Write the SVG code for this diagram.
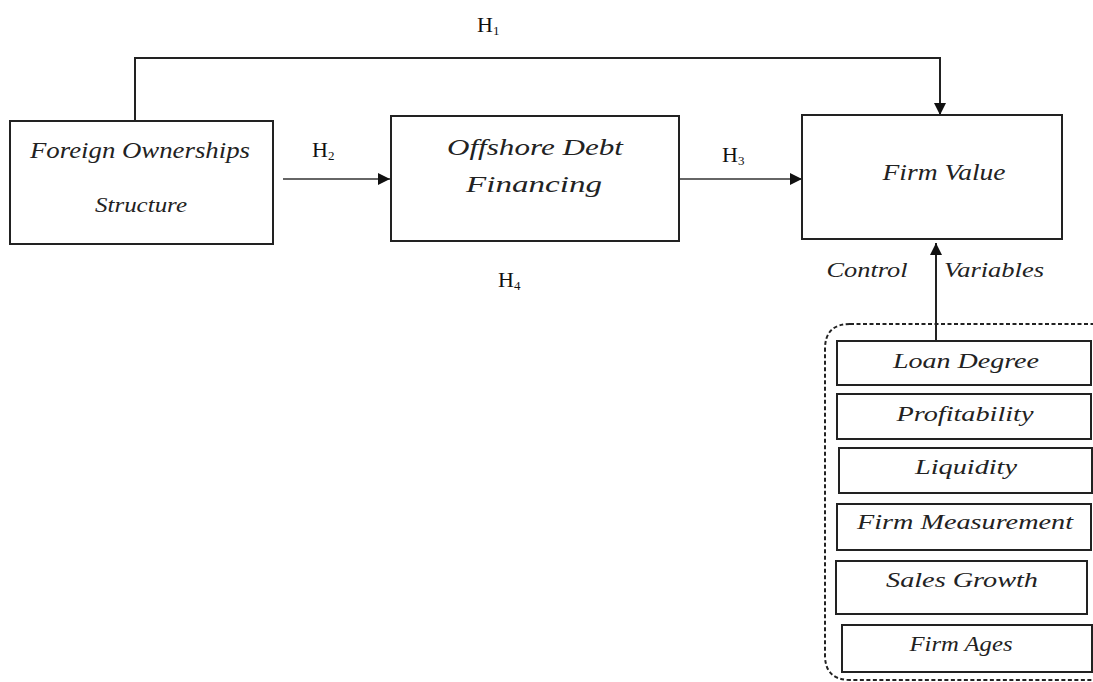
<svg xmlns="http://www.w3.org/2000/svg" width="1093" height="682" viewBox="0 0 1093 682">
<style>
.box{fill:#fff;stroke:#222;stroke-width:2}
.sbox{fill:#fff;stroke:#222;stroke-width:2}
.t{font-family:"Liberation Serif",serif;font-style:italic;fill:#222;text-anchor:middle}
.h{font-family:"Liberation Serif",serif;fill:#111;font-size:22px}
.h tspan{font-size:13px}
.ln{fill:none;stroke:#222;stroke-width:2}
.thin{fill:none;stroke:#333;stroke-width:1.4}
</style>
<defs>
<marker id="ahb" viewBox="0 0 10 10" refX="10" refY="5" markerWidth="12" markerHeight="12" markerUnits="userSpaceOnUse" orient="auto"><path d="M0,0 L10,5 L0,10 z" fill="#111"/></marker>
</defs>
<rect width="1093" height="682" fill="#fff"/>
<g id="connectors">
<path class="ln" d="M135,121 V58 H940 V115" marker-end="url(#ahb)"/>
<path class="thin" d="M283,179 H390" marker-end="url(#ahb)"/>
<path class="thin" d="M679,179 H802" marker-end="url(#ahb)"/>
<path class="ln" d="M936,340 V243" marker-end="url(#ahb)"/>
<text class="h" x="477" y="32">H<tspan dy="3">1</tspan></text>
<text class="h" x="312" y="157">H<tspan dy="3">2</tspan></text>
<text class="h" x="722" y="162">H<tspan dy="3">3</tspan></text>
<text class="h" x="498" y="287">H<tspan dy="3">4</tspan></text>
<text class="t" x="867" y="277" font-size="20" textLength="81" lengthAdjust="spacingAndGlyphs">Control</text>
<text class="t" x="994" y="277" font-size="20" textLength="100" lengthAdjust="spacingAndGlyphs">Variables</text>
</g>
<g id="n-foreign">
<rect class="box" x="10" y="121" width="263" height="123"/>
<text class="t" x="140" y="158" font-size="24" textLength="220" lengthAdjust="spacingAndGlyphs">Foreign Ownerships</text>
<text class="t" x="141" y="212" font-size="20" textLength="92" lengthAdjust="spacingAndGlyphs">Structure</text>
</g>
<g id="n-offshore">
<rect class="box" x="391" y="116" width="288" height="125"/>
<text class="t" x="535" y="155" font-size="24" textLength="176" lengthAdjust="spacingAndGlyphs">Offshore Debt</text>
<text class="t" x="534" y="192" font-size="24" textLength="136" lengthAdjust="spacingAndGlyphs">Financing</text>
</g>
<g id="n-firmvalue">
<rect class="box" x="802" y="115" width="260" height="124"/>
<text class="t" x="944" y="180" font-size="24" textLength="123" lengthAdjust="spacingAndGlyphs">Firm Value</text>
</g>
<g id="n-control">
<path d="M850,324 H1093 M850,324 Q825,324 825,349 V655 Q825,680 850,680 H1093" fill="none" stroke="#222" stroke-width="2" stroke-dasharray="4,2.5"/>
</g>
<g id="n-loan">
<rect class="sbox" x="837" y="341" width="254" height="44"/>
<text class="t" x="966" y="368" font-size="22" textLength="146" lengthAdjust="spacingAndGlyphs">Loan Degree</text>
</g>
<g id="n-profit">
<rect class="sbox" x="837" y="394" width="254" height="45"/>
<text class="t" x="965" y="421" font-size="22" textLength="137" lengthAdjust="spacingAndGlyphs">Profitability</text>
</g>
<g id="n-liquidity">
<rect class="sbox" x="839" y="448" width="253" height="45"/>
<text class="t" x="966" y="474" font-size="22" textLength="102" lengthAdjust="spacingAndGlyphs">Liquidity</text>
</g>
<g id="n-measure">
<rect class="sbox" x="837" y="504" width="254" height="46"/>
<text class="t" x="965" y="529" font-size="22" textLength="216" lengthAdjust="spacingAndGlyphs">Firm Measurement</text>
</g>
<g id="n-sales">
<rect class="sbox" x="836" y="561" width="251" height="53"/>
<text class="t" x="962" y="587" font-size="22" textLength="152" lengthAdjust="spacingAndGlyphs">Sales Growth</text>
</g>
<g id="n-ages">
<rect class="sbox" x="842" y="625" width="250" height="47"/>
<text class="t" x="961" y="651" font-size="22" textLength="103" lengthAdjust="spacingAndGlyphs">Firm Ages</text>
</g>
</svg>
